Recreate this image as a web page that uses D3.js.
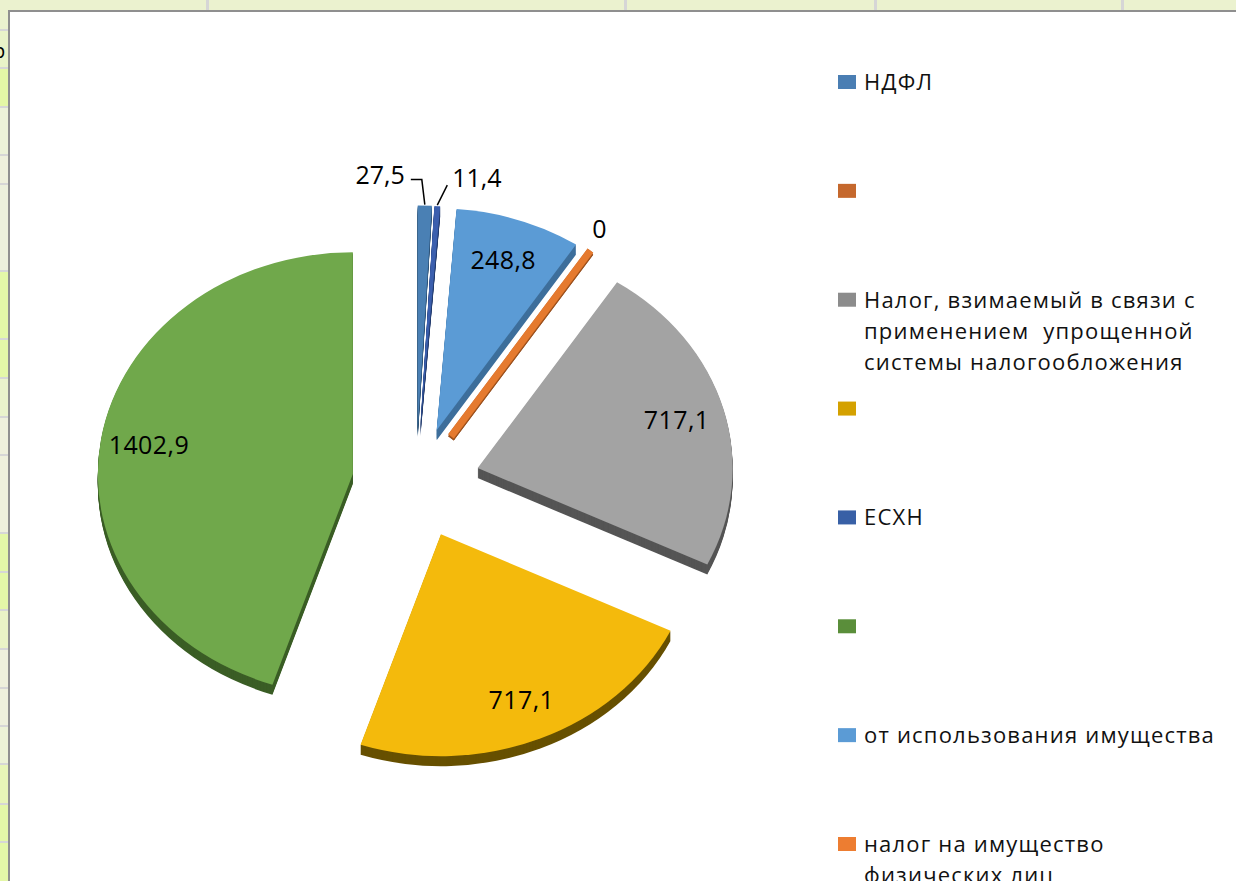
<!DOCTYPE html>
<html><head><meta charset="utf-8">
<script src="https://cdn.jsdelivr.net/npm/d3@7"></script>
<style>html,body{margin:0;padding:0;background:#fff;overflow:hidden}</style>
</head><body><svg id="c" width="1236" height="881"></svg>
<script>
// ---- data ----
const categories = ["НДФЛ", "", "Налог, взимаемый в связи с применением  упрощенной системы налогообложения", "", "ЕСХН", "", "от использования имущества", "налог на имущество физических лиц"];
const legendLines = [["НДФЛ"], [""], ["Налог, взимаемый в связи с", "применением  упрощенной", "системы налогообложения"], [""], ["ЕСХН"], [""], ["от использования имущества"], ["налог на имущество", "физических лиц"]];
const values = [27.5, 0, 717.1, 717.1, 11.4, 1402.9, 248.8, 0];
const valueLabels = ["27,5", "", "717,1", "717,1", "11,4", "1402,9", "248,8", "0"];
const pieOrder = [0, 4, 6, 1, 7, 2, 3, 5]; // clockwise from 12 o'clock

// ---- styles ----
const legendColors = ["#4a7eb3", "#c5682d", "#8c8c8c", "#d4a100", "#3860a6", "#5a8e3a", "#5b9bd5", "#ed7d31"];
const topColors = ["#4a80b4", "#c5682d", "#a3a3a3", "#f4ba0c", "#3b5fae", "#70a84b", "#5b9bd5", "#e57a2f"];
const sideColors = ["#2f5478", "#7a3f18", "#555555", "#675000", "#243d70", "#3b5e26", "#3e6f9c", "#a0521c"];

const svg = d3.select("#c");
const W = 1236, H = 881;

// ---- spreadsheet background ----
svg.append("rect").attr("width", W).attr("height", H).attr("fill", "#ebf2cf");
const rowEdges = [0, 30, 68, 107, 155, 184, 271, 339, 378, 417, 455, 533, 572, 610, 649, 688, 726, 764, 804, 842, 881];
const rowFills = ["#ebf2cf", "#e9f3c8", "#e4f7a6", "#ecf2d8", "#eef0dc", "#ecf0dc", "#e4f7a8", "#e4f7a8", "#eaf3cc", "#eef0dc", "#eef0dc", "#e4f7a8", "#e4f7a8", "#eaf3c6", "#eef0dc", "#eef0dc", "#ecf2d6", "#e8f5b8", "#e4f7a8", "#e4f7a8"];
rowFills.forEach((f, i) => {
  svg.append("rect").attr("x", 0).attr("y", rowEdges[i]).attr("width", 9).attr("height", rowEdges[i + 1] - rowEdges[i]).attr("fill", f);
  if (i > 0) svg.append("rect").attr("x", 0).attr("y", rowEdges[i] - 1).attr("width", 9).attr("height", 2).attr("fill", "#d6d6d6");
});
[207, 625, 875, 1122].forEach(x => svg.append("rect").attr("x", x - 1).attr("y", 0).attr("width", 3).attr("height", 10).attr("fill", "#d6d6d6"));
svg.append("text").attr("x", -7).attr("y", 58).attr("font-family", "Open Sans").attr("font-size", 20).attr("fill", "#000").text("р");

// chart area
svg.append("rect").attr("x", 9).attr("y", 11).attr("width", W).attr("height", H).attr("fill", "#fff").attr("stroke", "#8f8f8f").attr("stroke-width", 2);

// ---- pie ----
const cx = 416, cy = 483, rx = 255, ratio = 0.87, explode = 64, depth = 10;
const pie = d3.pie().sort(null).value(i => values[i]);
const arcs = pie(pieOrder);
const arc = d3.arc().innerRadius(0).outerRadius(rx);
const gPie = svg.append("g");

arcs.forEach(s => {
  const i = s.data;
  const mid = (s.startAngle + s.endAngle) / 2;
  const ox = explode * Math.sin(mid), oy = -explode * Math.cos(mid) * ratio;
  const g = gPie.append("g").attr("transform", `translate(${cx + ox},${cy + oy})`);
  if (values[i] === 0) {
    const ex = rx * Math.sin(mid), ey = -rx * Math.cos(mid) * ratio;
    g.append("line").attr("x1", 0).attr("y1", 2).attr("x2", ex).attr("y2", ey + 2)
      .attr("stroke", sideColors[i]).attr("stroke-width", 7);
    g.append("line").attr("x1", 0).attr("y1", 0).attr("x2", ex).attr("y2", ey)
      .attr("stroke", topColors[i]).attr("stroke-width", 7);
    return;
  }
  for (let k = depth; k >= 1; k--) {
    g.append("path").attr("d", arc(s)).attr("transform", `translate(0,${k}) scale(1,${ratio})`).attr("fill", sideColors[i]);
  }
  g.append("path").attr("d", arc(s)).attr("transform", `scale(1,${ratio})`).attr("fill", topColors[i]);
});

// ---- labels ----
const gLab = svg.append("g").attr("font-family", "Open Sans").attr("font-size", 25).attr("fill", "#000");
let firstSmall = true;
arcs.forEach(s => {
  const i = s.data;
  if (!valueLabels[i]) return;
  const mid = (s.startAngle + s.endAngle) / 2;
  const ax = cx + explode * Math.sin(mid), ay = cy - explode * Math.cos(mid) * ratio;
  const span = s.endAngle - s.startAngle;
  if (span > 0.3) {
    gLab.append("text").attr("x", ax + 0.81 * rx * Math.sin(mid)).attr("y", ay - 0.81 * rx * Math.cos(mid) * ratio)
      .attr("text-anchor", "middle").attr("dy", "0.35em").attr("letter-spacing", 0.4).text(valueLabels[i]);
    return;
  }
  const px = ax + rx * Math.sin(mid), py = ay - rx * Math.cos(mid) * ratio;
  if (values[i] === 0) {
    gLab.append("text").attr("x", px + 9).attr("y", py - 13).attr("text-anchor", "middle").text(valueLabels[i]);
  } else if (firstSmall) {
    firstSmall = false;
    gLab.append("text").attr("x", px - 20).attr("y", py - 22).attr("text-anchor", "end").text(valueLabels[i]);
    gLab.append("polyline").attr("points", `${px - 14},${py - 26} ${px - 3},${py - 26} ${px},${py - 1}`)
      .attr("fill", "none").attr("stroke", "#000").attr("stroke-width", 1.5);
  } else {
    gLab.append("text").attr("x", px + 15).attr("y", py - 19).attr("text-anchor", "start").text(valueLabels[i]);
    gLab.append("line").attr("x1", px + 10).attr("y1", py - 21).attr("x2", px).attr("y2", py - 1)
      .attr("stroke", "#000").attr("stroke-width", 1.5);
  }
});

// ---- legend ----
const ly = d3.scaleLinear().domain([0, categories.length - 1]).range([90, 852]);
const gLeg = svg.append("g").attr("font-family", "Open Sans").attr("font-size", 22).attr("fill", "#111");
categories.forEach((c, i) => {
  const y = ly(i);
  gLeg.append("rect").attr("x", 838).attr("y", y - 15).attr("width", 18).attr("height", 14).attr("fill", legendColors[i]);
  legendLines[i].forEach((t, j) => {
    if (t) gLeg.append("text").attr("x", 864).attr("y", y + j * 31).attr("letter-spacing", 1.2)
      .style("white-space", "pre").text(t);
  });
});
</script></body></html>
